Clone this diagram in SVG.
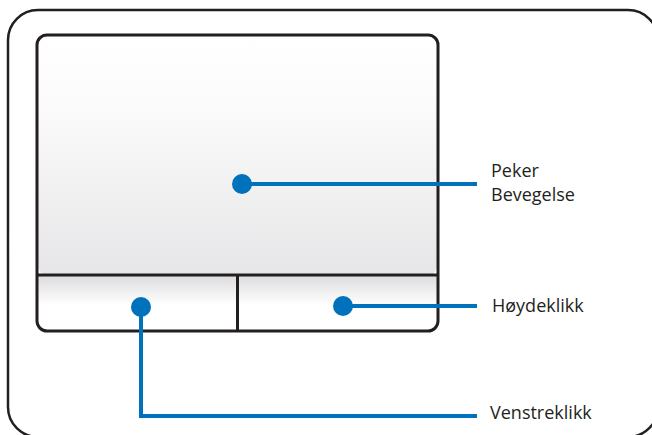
<svg xmlns="http://www.w3.org/2000/svg" width="652" height="435" viewBox="0 0 652 435">
<defs>
<linearGradient id="padG" x1="0" y1="0" x2="0" y2="1">
<stop offset="0" stop-color="#ffffff"/>
<stop offset="0.3" stop-color="#fbfbfb"/>
<stop offset="1" stop-color="#e6e6e8"/>
</linearGradient>
<linearGradient id="btnG" x1="0" y1="0" x2="0" y2="1">
<stop offset="0" stop-color="#dcdcde"/>
<stop offset="0.55" stop-color="#ffffff"/>
<stop offset="1" stop-color="#ffffff"/>
</linearGradient>
<style>
.frame{fill:none;stroke:#231f20;stroke-width:2.5}
.pad{stroke:#231f20;stroke-width:3}
.lead{fill:none;stroke:#0072bc;stroke-width:4}
.dot{fill:#0072bc}
.lbl{font-family:"Open Sans","Noto Sans",sans-serif;font-size:18px;fill:#231f20}
</style>
</defs>
<rect class="frame" x="8" y="10" width="650" height="427" rx="30"/>
<g id="touchpad">
<rect x="37" y="35" width="401" height="296" rx="10" fill="#ffffff"/>
<rect x="38" y="36" width="399" height="239" rx="9" fill="url(#padG)"/>
<rect x="38" y="275" width="399" height="55" fill="url(#btnG)"/>
<rect class="pad" x="37" y="35" width="401" height="296" rx="10" fill="none"/>
<line class="pad" x1="37" y1="275" x2="438" y2="275"/>
<line class="pad" x1="237.5" y1="275" x2="237.5" y2="331"/>
</g>
<g id="connectors">
<polyline class="lead" points="242,184 477,184"/>
<polyline class="lead" points="343,306 477,306"/>
<polyline class="lead" points="141,307 141,416 477,416"/>
</g>
<g id="node-peker">
<circle class="dot" cx="242" cy="184" r="10"/>
<text class="lbl" x="491" y="177">Peker</text>
<text class="lbl" x="491" y="201">Bevegelse</text>
</g>
<g id="node-hoyreklikk">
<circle class="dot" cx="343" cy="306" r="10"/>
<text class="lbl" x="492" y="312">Høydeklikk</text>
</g>
<g id="node-venstreklikk">
<circle class="dot" cx="141" cy="307" r="10"/>
<text class="lbl" x="490" y="419">Venstreklikk</text>
</g>
</svg>
